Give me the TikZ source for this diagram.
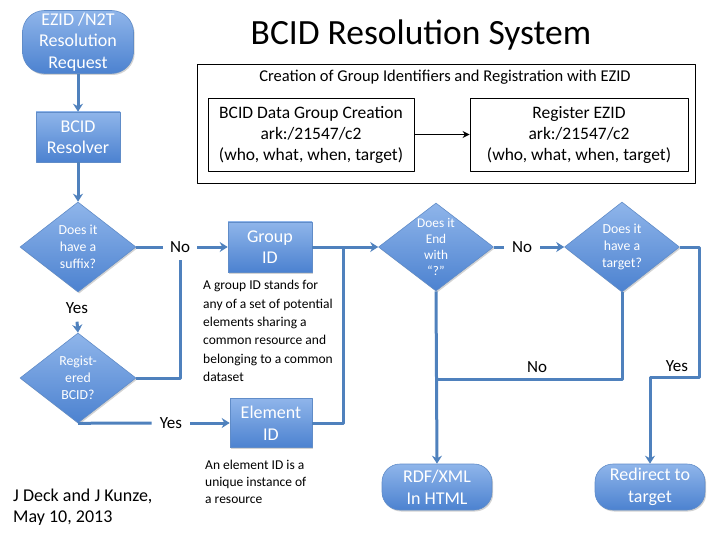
\documentclass[tikz,border=0pt]{standalone}
\usepackage{fontspec}
\setmainfont{Carlito}
\usetikzlibrary{shapes.geometric,arrows.meta,shadows}
\definecolor{boxtop}{RGB}{143,181,234}
\definecolor{boxbot}{RGB}{76,130,208}
\definecolor{boxline}{RGB}{96,140,200}
\definecolor{flow}{RGB}{79,129,189}
\begin{document}
\begin{tikzpicture}[x=1pt,y=-1pt, line join=round, >={Stealth[length=8pt,width=10pt]},
	bluebox/.style={draw=boxline, line width=0.6pt, top color=boxtop, bottom color=boxbot, text=white, align=center,
		font=\fontsize{18}{21.5}\selectfont, drop shadow={shadow xshift=1.2pt, shadow yshift=-1.5pt, opacity=.35}},
	proc/.style={bluebox, minimum width=84pt, minimum height=50pt, inner sep=0pt},
	term/.style={bluebox, rounded corners=18pt, minimum width=110pt, minimum height=46pt, inner sep=0pt},
	decide/.style={bluebox, diamond, aspect=1.3, inner sep=0pt, minimum width=116pt, minimum height=90pt,
		font=\fontsize{13.8}{16.8}\selectfont},
	flowline/.style={draw=flow, line width=3pt},
	lab/.style={font=\fontsize{17}{20}\selectfont, inner sep=8pt},
	note/.style={align=left, anchor=west, inner sep=2pt},
	plainbox/.style={draw=black, line width=0.9pt, align=center, font=\fontsize{17.5}{21}\selectfont, inner sep=0pt}]
	\useasboundingbox (0,0) rectangle (720,540);
	%% title and credit
	\node (title) at (421,35) {\fontsize{35.5}{40}\selectfont BCID Resolution System};
	\node[align=left, anchor=west, font=\fontsize{18}{20.5}\selectfont, inner sep=0pt] (credit) at (13,507)
		{J Deck and J Kunze,\\May 10, 2013};
	%% creation and registration
	\node[draw=black, line width=0.9pt, minimum width=498pt, minimum height=119pt] (creation) at (446,123.5) {};
	\node[font=\fontsize{16.5}{19}\selectfont] (creationtitle) at (445,77)
		{Creation of Group Identifiers and Registration with EZID};
	\node[plainbox, minimum width=206pt, minimum height=73pt] (groupcreation) at (311,134.5)
		{BCID Data Group Creation\\ark:/21547/c2\\(who, what, when, target)};
	\node[plainbox, minimum width=218pt, minimum height=73pt] (registerezid) at (579,134.5)
		{Register EZID\\ark:/21547/c2\\(who, what, when, target)};
	\draw[->, line width=1.6pt, >={Stealth[length=7pt,width=7pt]}] (groupcreation) -- (registerezid);
	%% flow chart
	\node[term, minimum width=111pt, minimum height=63pt, rounded corners=22pt] (ezid) at (78,42)
		{EZID /N2T\\Resolution\\Request};
	\node[proc] (resolver) at (78,137) {BCID\\Resolver};
	\node[decide] (suffix) at (78,247) {Does it\\have a\\suffix?};
	\node[decide] (registered) at (78,378) {Regist-\\ered\\BCID?};
	\node[proc] (groupid) at (270,247) {Group\\ID};
	\node[proc, minimum width=82pt, minimum height=49pt] (elementid) at (271,423) {Element\\ID};
	\node[decide, minimum width=115pt, minimum height=88pt, font=\fontsize{13.3}{16.3}\selectfont] (endq) at (436,247)
		{Does it\\End\\with\\“?”};
	\node[decide, minimum width=115pt] (target) at (622,247) {Does it\\have a\\target?};
	\node[term] (rdf) at (437,487) {RDF/XML\\In HTML};
	\node[term] (redirect) at (650,487) {Redirect to\\target};
	%% notes
	\node[note, font=\fontsize{13.5}{18.3}\selectfont] (groupnote) at (201,331)
		{A group ID stands for\\any of a set of potential\\elements sharing a\\common resource and\\belonging to a common\\dataset};
	\node[note, font=\fontsize{13.5}{16.7}\selectfont] (elementnote) at (203,482)
		{An element ID is a\\unique instance of\\a resource};
	%% labels
	\node[lab, inner sep=7pt] (noA) at (180,247) {No};
	\node[lab] (yesA) at (77,308) {Yes};
	\node[lab] (yesB) at (171,423) {Yes};
	\node[lab] (noB) at (522,247) {No};
	\node[lab] (noC) at (537,367) {No};
	\node[lab] (yesC) at (677,366) {Yes};
	\coordinate (join) at (343,247);
	\coordinate (nojoin) at (436,379);
	\coordinate (yesturn) at (699,377);
	%% connectors
	\draw[flowline,->] (ezid) -- (resolver);
	\draw[flowline,->] (resolver) -- (suffix);
	\draw[flowline] (suffix.east) -- (noA.west);
	\draw[flowline,->] (noA.east) -- (groupid.west);
	\draw[flowline,->] (yesA.south) -- (registered.north);
	\draw[flowline] (registered.east) -| (noA.south);
	\draw[flowline] (registered.south) -- (yesB.west);
	\draw[flowline,->] (yesB.east) -- (elementid.west);
	\draw[flowline,->] (groupid.east) -- (endq.west);
	\draw[flowline] (elementid.east) -| (join);
	\draw[flowline] (endq.east) -- (noB.west);
	\draw[flowline,->] (noB.east) -- (target.west);
	\draw[flowline,->] (endq.south) -- (rdf.north);
	\draw[flowline] (target.south) |- (nojoin);
	\draw[flowline,->] (target.east) -| (yesturn) -| (redirect.north);
\end{tikzpicture}
\end{document}
